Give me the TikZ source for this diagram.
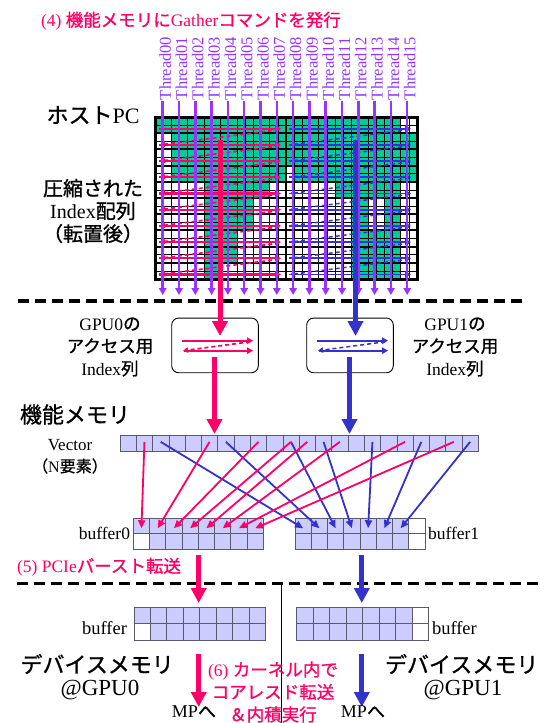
\documentclass[tikz,border=0pt]{standalone}
\usepackage{fontspec}
\setmainfont{Liberation Serif}
\newfontfamily\jp[FakeBold=1]{Noto Sans CJK JP}
\usetikzlibrary{arrows.meta}
\definecolor{pk}{RGB}{255,0,102}
\definecolor{bl}{RGB}{51,51,204}
\definecolor{pu}{RGB}{153,51,255}
\definecolor{gr}{RGB}{0,204,153}
\definecolor{lav}{RGB}{204,204,255}
\definecolor{cellline}{RGB}{90,90,110}
\tikzset{
  every node/.style={inner sep=0pt,outer sep=0pt},
  tA/.style={font=\fontsize{17.5}{22.5}\selectfont, align=center},
  tB/.style={font=\fontsize{22}{26}\selectfont, align=center},
  tC/.style={font=\fontsize{20}{22.7}\selectfont, align=center},
  tD/.style={font=\fontsize{18}{22}\selectfont, align=center},
  tE/.style={font=\fontsize{17.5}{22.5}\selectfont, align=center, text=pk},
  thr/.style={rotate=90, anchor=west, text=pu, font=\fontsize{16.5}{16.5}\selectfont},
  purarrow/.style={draw=pu, line width=2.5pt, -{Triangle[length=7pt,width=7.5pt]}},
  bigpk/.style={draw=pk, line width=5pt, -{Triangle[length=15pt,width=15pt]}},
  bigbl/.style={draw=bl, line width=5pt, -{Triangle[length=15pt,width=15pt]}},
  rowpk/.style={draw=pk, line width=2.2pt, -{Triangle[length=6pt,width=6.5pt]}},
  rowbl/.style={draw=bl, line width=1.8pt, -{Triangle[length=6pt,width=6.5pt]}},
  retpk/.style={draw=pk, line width=1.7pt, dash pattern=on 4pt off 3pt, -{Triangle[length=5pt,width=5.5pt]}},
  retbl/.style={draw=bl, line width=1.5pt, dash pattern=on 4pt off 3pt, -{Triangle[length=5pt,width=5.5pt]}},
  gatpk/.style={draw=pk, line width=1.8pt, -{Triangle[length=8pt,width=7pt]}},
  gatbl/.style={draw=bl, line width=1.8pt, -{Triangle[length=8pt,width=7pt]}},
  cellv/.style={draw=cellline, fill=lav, line width=0.7pt, minimum width=16.29pt, minimum height=16.7pt},
  cellb/.style={draw=cellline, fill=lav, line width=0.7pt, minimum width=16.25pt, minimum height=15.5pt},
  celld/.style={draw=cellline, fill=lav, line width=0.7pt, minimum width=16.45pt, minimum height=16.75pt},
  sepline/.style={line width=3.5pt, dash pattern=on 11pt off 6pt},
  gbox/.style={draw, line width=0.9pt, rounded corners=7pt, minimum width=86.6pt, minimum height=54.7pt},
}
\begin{document}
\begin{tikzpicture}[x=1pt,y=-1pt]
\useasboundingbox (0,0) rectangle (539,723);
\fill[white] (0,0) rectangle (539,723);

% title
\node[anchor=west, text=pk, font=\fontsize{17.5}{20}\selectfont] (title) at (41,21) {(4) {\jp 機能メモリに}Gather{\jp コマンドを発行}};

% left labels
\node[tB] (host) at (93,115) {{\jp ホスト}PC};
\node[tC] (idx) at (93,211) {{\jp 圧縮された}\\Index{\jp 配列}\\{\jp （転置後）}};

% grid
\begin{scope}[shift={(155pt,-117pt)}, x=8.1875pt, y=-8.1pt]
  \fill[gr] (0,0) -- (16,0) -- (16,8) -- (14,8) -- (14,10) -- (12,10) -- (12,14) -- (10,14) -- (10,18) -- (8,18) -- (8,20) -- (6,20) -- (6,8) -- (2,8) -- (2,2) -- (0,2) -- cycle;
  \fill[gr] (16,0) -- (30,0) -- (30,2) -- (32,2) -- (32,8) -- (30,8) -- (30,20) -- (24,20) -- (24,10) -- (22,10) -- (22,8) -- (17,8) -- (17,6) -- (16,6) -- cycle;
  \fill[white] (26,10) rectangle (28,14);
  \foreach \c in {1,...,31} \draw[line width=0.6pt] (\c,0) -- (\c,20);
  \foreach \r in {1,3,...,19} \draw[line width=0.6pt] (0,\r) -- (32,\r);
  \foreach \r in {2,4,...,18} \draw[line width=2pt] (0,\r) -- (32,\r);
  \draw[line width=2.2pt] (16,0) -- (16,20);
  \draw[line width=3pt] (0,0) rectangle (32,20);
\end{scope}

% row scans
\foreach \k [evaluate=\k as \y using 128.7+16.2*\k] in {0,...,9}{
  \draw[rowpk] (159,\y) -- (281,\y);
  \draw[rowbl] (289,\y) -- (411,\y);
}
\foreach \k [evaluate=\k as \y using 129.7+16.2*\k, evaluate=\k as \yy using 144.9+16.2*\k] in {0,...,8}{
  \draw[retpk] (279,\y) -- (160,\yy);
  \draw[retbl] (409,\y) -- (290,\yy);
}

% threads
\foreach \k [evaluate=\k as \xx using 162.7+16.3*\k] in {0,...,15}{
  \node[thr] (th\k) at (\xx+2.5,100) {Thread\ifnum\k<10 0\fi\k};
  \coordinate (ps\k) at (\xx,101);
  \coordinate (pe\k) at (\xx,295);
  \draw[purarrow] (ps\k) -- (pe\k);
}

% separators
\coordinate (s1a) at (18,301); \coordinate (s1b) at (524,301);
\draw[sepline] (s1a) -- (s1b);
\coordinate (s2a) at (17,583.5); \coordinate (s2b) at (539,583.5);
\draw[sepline] (s2a) -- (s2b);

% GPU boxes
\node[gbox] (g0) at (215,345.4) {};
\node[gbox] (g1) at (350,345.4) {};
\node[tA] (g0l) at (110,347) {GPU0{\jp の}\\{\jp アクセス用}\\Index{\jp 列}};
\node[tA] (g1l) at (455,347) {GPU1{\jp の}\\{\jp アクセス用}\\Index{\jp 列}};

% inner arrows
\draw[rowpk] (182,340.7) -- (253,340.7);
\draw[retpk] (250,341.8) -- (183,350.7);
\draw[rowpk] (184,350.7) -- (253,350.7);
\draw[rowbl] (317,340.7) -- (388,340.7);
\draw[retbl] (385,341.8) -- (318,350.7);
\draw[rowbl] (319,350.7) -- (388,350.7);

% thick arrows into boxes
\coordinate (pkA) at (220,140); \coordinate (pkB) at (220,336);
\coordinate (blA) at (355.5,140); \coordinate (blB) at (355.5,336);
\draw[bigpk] (pkA) -- (pkB);
\draw[bigbl] (blA) -- (blB);

% functional memory
\node[anchor=west, font=\fontsize{22}{26}\selectfont] (fm) at (20,414.5) {{\jp 機能メモリ}};
\node[font=\fontsize{17}{20}\selectfont] (vec) at (70,445) {Vector};
\node[font=\fontsize{16}{20}\selectfont] (nel) at (70,466) {{\jp （}N{\jp 要素）}};

\foreach \i in {0,...,21} \node[cellv] (v\i) at ({120+16.286*(\i+0.5)},443.35) {};

\coordinate (pkC) at (214.5,357); \coordinate (pkD) at (214.5,434);
\coordinate (blC) at (349.5,357); \coordinate (blD) at (349.5,434);
\draw[bigpk] (pkC) -- (pkD);
\draw[bigbl] (blC) -- (blD);

% buffers (functional memory)
\foreach \i in {0,...,7}{
  \node[cellb] (p\i) at ({133.3+16.25*(\i+0.5)},525.75) {};
  \node[cellb] (pb\i) at ({133.3+16.25*(\i+0.5)},541.25) {};
  \node[cellb] (q\i) at ({295+16.25*(\i+0.5)},525.75) {};
  \node[cellb] (qb\i) at ({295+16.25*(\i+0.5)},541.25) {};
}
\node[cellb, fill=white] at (pb0) {};
\node[cellb, fill=white] at (q7) {};
\node[cellb, fill=white] at (qb7) {};
\node[anchor=east, font=\fontsize{17.5}{20}\selectfont] (b0l) at (130,533.5) {buffer0};
\node[anchor=west, font=\fontsize{17.5}{20}\selectfont] (b1l) at (428,533.5) {buffer1};

% gather arrows
\foreach \s/\e in {2/0,6/1,10/2,12/3,15/4,18/5,21/6}
  \draw[gatbl] ([yshift=1.5pt]v\s.center) -- ([yshift=-2.5pt]q\e.center);
\foreach \s/\e in {1/0,5/1,8/2,10/3,11/4,13/5,17/6,20/7}
  \draw[gatpk] ([yshift=1.5pt]v\s.center) -- ([yshift=-2.5pt]p\e.center);

% PCIe transfer
\node[anchor=west, text=pk, font=\fontsize{17.5}{20}\selectfont] (pcie) at (17,567) {(5) PCIe{\jp バースト転送}};
\coordinate (pkE) at (198.7,555); \coordinate (pkF) at (198.7,603);
\coordinate (blE) at (361.8,555); \coordinate (blF) at (361.8,603);
\draw[bigpk] (pkE) -- (pkF);
\draw[bigbl] (blE) -- (blF);

% divider
\coordinate (dv1) at (281.6,583.5); \coordinate (dv2) at (281.6,723);
\draw[line width=0.8pt] (dv1) -- (dv2);

% device buffers
\foreach \i in {0,...,7}{
  \node[celld] (r\i) at ({134+16.425*(\i+0.5)},615.4) {};
  \node[celld] (rb\i) at ({134+16.425*(\i+0.5)},632.1) {};
  \node[celld] (s\i) at ({296.5+16.5*(\i+0.5)},615.4) {};
  \node[celld] (sb\i) at ({296.5+16.5*(\i+0.5)},632.1) {};
}
\node[celld, fill=white] at (rb0) {};
\node[celld, fill=white] at (s7) {};
\node[celld, fill=white] at (sb7) {};
\node[anchor=east, font=\fontsize{18.5}{20}\selectfont] (bl0) at (127,628) {buffer};
\node[anchor=west, font=\fontsize{18.5}{20}\selectfont] (bl1) at (432,628) {buffer};

\node[anchor=west, font=\fontsize{22}{26}\selectfont] (dm0) at (20.5,664) {{\jp デバイスメモリ}};
\node[font=\fontsize{23}{26}\selectfont] (at0) at (100,690) {@GPU0};
\node[anchor=west, font=\fontsize{22}{26}\selectfont] (dm1) at (385,664) {{\jp デバイスメモリ}};
\node[font=\fontsize{23}{26}\selectfont] (at1) at (463,690) {@GPU1};

\coordinate (pkG) at (198.7,654); \coordinate (pkH) at (198.7,707);
\coordinate (blG) at (361.8,654); \coordinate (blH) at (361.8,707);
\draw[bigpk] (pkG) -- (pkH);
\draw[bigbl] (blG) -- (blH);
\node[font=\fontsize{18}{20}\selectfont] (mp0) at (194,712) {MP{\jp へ}};
\node[font=\fontsize{18}{20}\selectfont] (mp1) at (363,712) {MP{\jp へ}};
\node[tE] (k6) at (273,692) {(6) {\jp カーネル内で}\\{\jp コアレスド転送}\\{\jp ＆内積実行}};
\end{tikzpicture}
\end{document}
